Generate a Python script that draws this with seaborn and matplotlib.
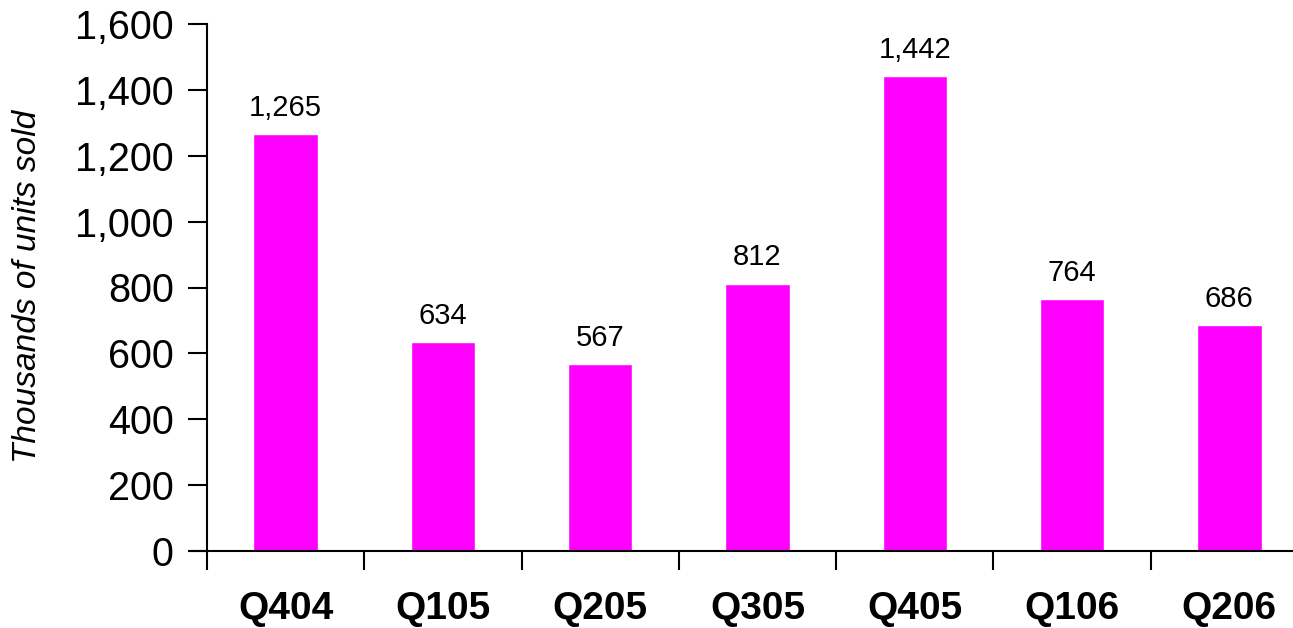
import pandas as pd
import seaborn as sns
import matplotlib.pyplot as plt
import numpy as np

# 数据
quarters = ['Q404', 'Q105', 'Q205', 'Q305', 'Q405', 'Q106', 'Q206']
units = [1265, 634, 567, 812, 1442, 764, 686]

df = pd.DataFrame({'quarter': quarters, 'units': units})

sns.set_style('ticks')
plt.rcParams['font.family'] = ['Liberation Sans', 'DejaVu Sans']
plt.rcParams.update({'text.color': 'black', 'axes.labelcolor': 'black',
                     'xtick.color': 'black', 'ytick.color': 'black',
                     'axes.edgecolor': 'black'})

fig = plt.figure(figsize=(12.93, 6.28), dpi=100)
ax = fig.add_axes([207 / 1293, 1 - 551 / 628, 1101 / 1293, 527 / 628])

sns.barplot(data=df, x='quarter', y='units', color='#FF00FF', width=0.41,
            saturation=1, ax=ax)

for i, v in enumerate(units):
    ax.annotate(f'{v:,}', (i, v), xytext=(0, 9), textcoords='offset points',
                ha='center', va='bottom', fontsize=21)

ax.set_ylim(0, 1600)
ax.set_xlim(-0.5, len(quarters) - 0.5)
ax.set_yticks(np.arange(0, 1601, 200))
ax.yaxis.set_major_formatter(plt.FuncFormatter(lambda v, p: f'{int(v):,}'))
ax.tick_params(axis='y', labelsize=28.5, length=14, width=1.5, pad=10, direction='out')

# 类别刻度居中，边界处画小刻度
ax.set_xticks(np.arange(len(quarters)))
ax.set_xticklabels(quarters, fontsize=28, fontweight='bold')
ax.tick_params(axis='x', which='major', length=0, pad=29)
ax.set_xticks(np.arange(len(quarters) + 1) - 0.5, minor=True)
ax.tick_params(axis='x', which='minor', length=14, width=1.5, direction='out')

ax.set_xlabel('')
ax.set_ylabel('Thousands of units sold', fontsize=24, style='italic')
ax.yaxis.set_label_coords(-0.149, 0.503)

for s in ['top', 'right']:
    ax.spines[s].set_visible(False)
ax.spines['left'].set_linewidth(1.5)
ax.spines['bottom'].set_linewidth(1.5)
ax.spines['bottom'].set_bounds(-0.6, len(quarters) - 0.5)

fig.savefig('out.png', dpi=100)
